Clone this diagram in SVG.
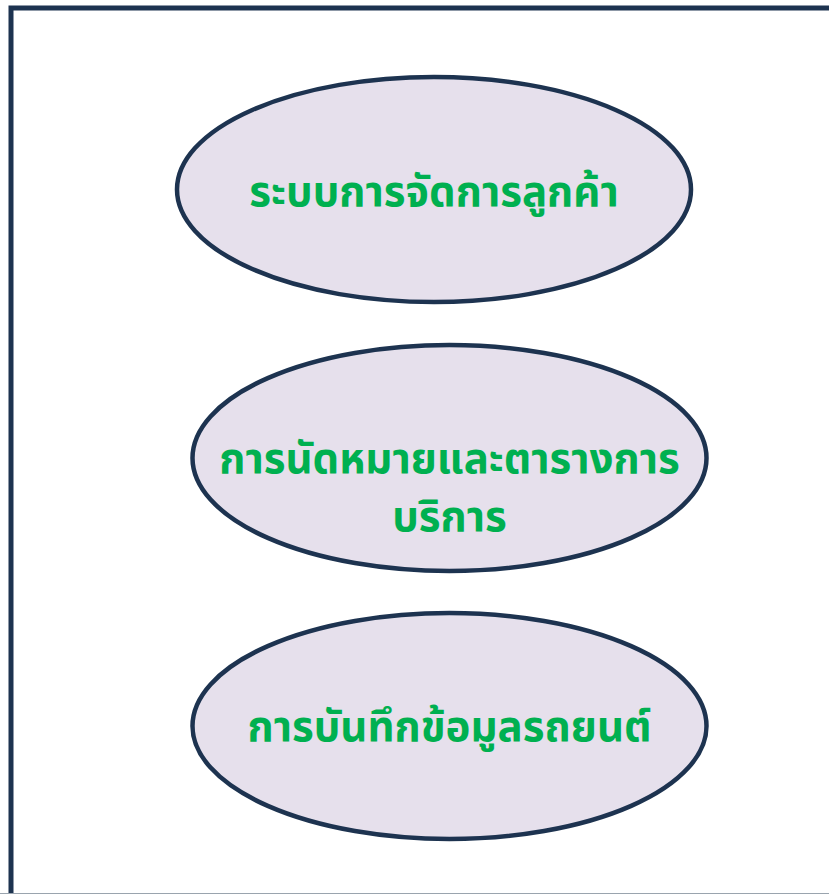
<svg xmlns="http://www.w3.org/2000/svg" width="829" height="894" viewBox="0 0 829 894">
<style>
.node ellipse{fill:#e6e0ec;stroke:#1d3350;stroke-width:4.5}
.node text{font-family:"Noto Sans Thai","Noto Sans","Liberation Sans",sans-serif;font-weight:bold;font-size:42px;fill:#00b050;text-anchor:middle}
</style>
<rect width="829" height="894" fill="#ffffff"/>
<g id="frame">
<path d="M11 894 V8 H829" fill="none" stroke="#1d3350" stroke-width="5"/>
<line x1="0" y1="893.5" x2="829" y2="893.5" stroke="#9aa4ae" stroke-width="1"/>
</g>
<g id="connectors"></g>
<g id="node1" class="node">
<ellipse cx="434" cy="189.5" rx="257" ry="112.5"/>
<text x="434" y="206">ระบบการจัดการลูกค้า</text>
</g>
<g id="node2" class="node">
<ellipse cx="449.5" cy="458" rx="257" ry="113"/>
<text x="449.5" y="473">การนัดหมายและตารางการ</text>
<text x="449.5" y="531">บริการ</text>
</g>
<g id="node3" class="node">
<ellipse cx="449.5" cy="726" rx="257" ry="113"/>
<text x="449.5" y="741">การบันทึกข้อมูลรถยนต์</text>
</g>
</svg>
